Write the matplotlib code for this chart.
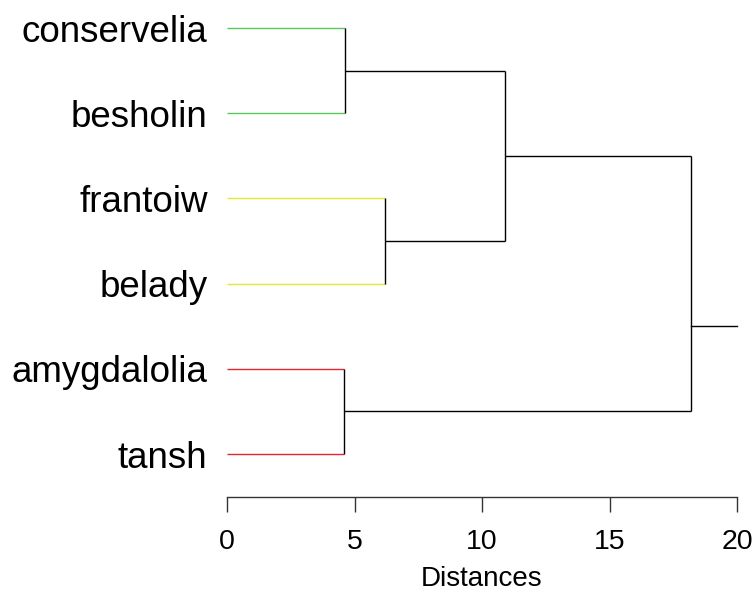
import matplotlib
matplotlib.use("Agg")
import matplotlib.pyplot as plt

plt.rcParams['font.family'] = ['Liberation Sans', 'DejaVu Sans']

labels = ["conservelia", "besholin", "frantoiw", "belady", "amygdalolia", "tansh"]
leaf_colors = ["#5cc75c", "#5cc75c", "#e6e63a", "#e6e63a", "#e5262f", "#e5262f"]
# merges: (child_a, child_b, height); leaves are 0..5, new clusters numbered 6..
merges = [(0, 1, 4.63), (2, 3, 6.2), (4, 5, 4.59), (6, 7, 10.9), (9, 8, 18.2)]
root_stub_pos = 3.5   # vertical position where the root stub is drawn (in leaf units)
x_max = 20
xticks = [0, 5, 10, 15, 20]

fig = plt.figure(figsize=(7.53, 5.92), dpi=100)
W, H = 753, 592
top_px, bot_px = 28, 497
left_px, right_px = 227, 737
ax = fig.add_axes([left_px / W, 1 - bot_px / H, (right_px - left_px) / W, (bot_px - top_px) / H])

step = (454 - 28) / 5
ylow = 5 + (bot_px - 454) / step
ax.set_xlim(0, x_max)
ax.set_ylim(ylow, 0)

pos = {i: (0.0, float(i)) for i in range(len(labels))}
lw = 1.0
for k, (a, b, h) in enumerate(merges):
    for c in (a, b):
        cx, cy = pos[c]
        col = leaf_colors[c] if c < len(labels) else "black"
        ax.plot([cx, h], [cy, cy], color=col, lw=lw, solid_capstyle='butt', clip_on=False)
    ya, yb = pos[a][1], pos[b][1]
    ax.plot([h, h], [ya, yb], color="black", lw=lw, solid_capstyle='butt', clip_on=False)
    pos[len(labels) + k] = (h, (ya + yb) / 2)
root = pos[len(labels) + len(merges) - 1]
ax.plot([root[0], x_max], [root_stub_pos, root_stub_pos], color="black", lw=lw, clip_on=False)

for s in ("top", "right", "left"):
    ax.spines[s].set_visible(False)
ax.spines["bottom"].set_color("#333333")
ax.spines["bottom"].set_linewidth(1.0)

ax.set_xticks(xticks)
ax.set_xticklabels([str(t) for t in xticks], fontsize=20.5)
ax.tick_params(axis="x", direction="out", length=11, width=1.0, color="#333333", pad=12)

ax.set_yticks(range(len(labels)))
ax.set_yticklabels(labels, fontsize=26.5)
ax.tick_params(axis="y", length=0, pad=14)

ax.set_xlabel("Distances", fontsize=20, labelpad=8)

fig.savefig("out.png", dpi=100)
